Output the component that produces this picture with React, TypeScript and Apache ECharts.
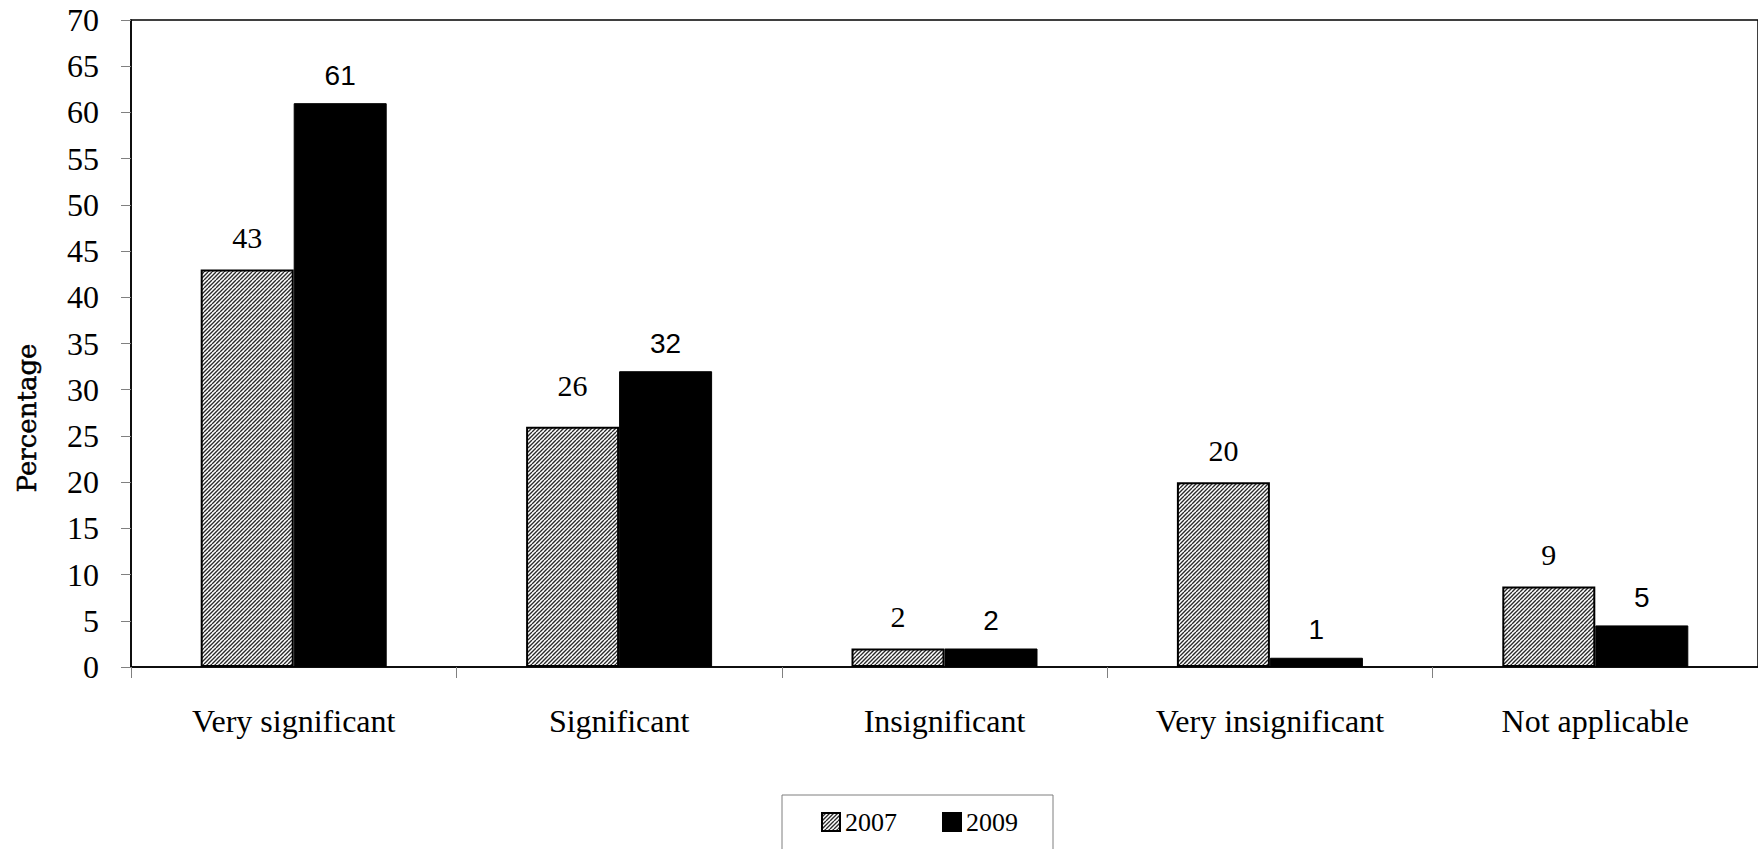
import React, { useEffect, useRef } from "react";
import * as echarts from "echarts";

const categories = ["Very significant", "Significant", "Insignificant", "Very insignificant", "Not applicable"];
const seriesNames = ["2007", "2009"];
const values2007 = [43, 26, 2, 20, 8.7];
const values2009 = [61, 32, 2, 1, 4.5];
const yTicks = { min: 0, max: 70, interval: 5 };

function makeHatch(): HTMLCanvasElement {
  const c = document.createElement("canvas");
  c.width = 8;
  c.height = 8;
  const ctx = c.getContext("2d")!;
  ctx.fillStyle = "#ffffff";
  ctx.fillRect(0, 0, 8, 8);
  ctx.strokeStyle = "#2a2a2a";
  ctx.lineWidth = 1.4;
  ctx.beginPath();
  for (let k = -8; k <= 16; k += 4) {
    ctx.moveTo(k, 8);
    ctx.lineTo(k + 8, 0);
  }
  ctx.stroke();
  return c;
}

export default function App() {
  const ref = useRef<HTMLDivElement>(null);
  useEffect(() => {
    if (!ref.current) return;
    const chart = echarts.init(ref.current, undefined, { renderer: "svg" });
    const hatch = { image: makeHatch(), repeat: "repeat" } as any;
    const serif = "Liberation Serif";
    const option: any = {
      animation: false,
      backgroundColor: "#ffffff",
      grid: {
        left: 131,
        top: 20,
        width: 1630,
        height: 647,
        show: true,
        borderColor: "#000000",
        borderWidth: 1.5,
        backgroundColor: "transparent",
      },
      legend: {
        left: 782,
        top: 795,
        padding: [14, 35, 40, 39],
        borderColor: "#7f7f7f",
        borderWidth: 1,
        itemWidth: 18,
        itemHeight: 18,
        itemGap: 45,
        icon: "rect",
        textStyle: { fontFamily: serif, fontSize: 26, color: "#000000" },
        data: seriesNames,
      },
      xAxis: {
        type: "category",
        data: categories,
        axisLine: { show: true, lineStyle: { color: "#000000", width: 1.5 } },
        axisTick: { show: true, length: 11, alignWithLabel: false, lineStyle: { color: "#808080", width: 1 } },
        axisLabel: { fontFamily: serif, fontSize: 32, color: "#000000", margin: 38, interval: 0 },
        splitLine: { show: false },
      },
      yAxis: {
        type: "value",
        min: yTicks.min,
        max: yTicks.max,
        interval: yTicks.interval,
        axisLine: { show: true, lineStyle: { color: "#000000", width: 1.5 } },
        axisTick: { show: true, length: 10, lineStyle: { color: "#808080", width: 1 } },
        axisLabel: { fontFamily: serif, fontSize: 32, color: "#000000", margin: 32 },
        splitLine: { show: false },
      },
      graphic: [
        {
          type: "text",
          x: 27,
          y: 418,
          rotation: Math.PI / 2,
          style: {
            text: "Percentage",
            font: "26px 'DejaVu Serif'",
            fill: "#000000",
            stroke: "#000000",
            lineWidth: 0.5,
            align: "center",
            verticalAlign: "middle",
          },
        },
      ],
      series: [
        {
          name: seriesNames[0],
          type: "bar",
          barWidth: 93,
          barGap: "0%",
          data: values2007.map((v, i) => (i === 1 ? { value: v, label: { distance: 26 } } : v)),
          itemStyle: { color: hatch, borderColor: "#000000", borderWidth: 2 },
          label: {
            show: true,
            position: "top",
            distance: 17,
            fontFamily: serif,
            fontSize: 30,
            color: "#000000",
            formatter: (p: any) => String(Math.round(p.value)),
          },
        },
        {
          name: seriesNames[1],
          type: "bar",
          barWidth: 93,
          barGap: "0%",
          data: values2009,
          itemStyle: { color: "#000000", borderColor: "#000000", borderWidth: 1 },
          label: {
            show: true,
            position: "top",
            distance: 14,
            fontFamily: "Liberation Sans",
            fontSize: 28,
            color: "#000000",
            formatter: (p: any) => String(Math.round(p.value)),
          },
        },
      ],
    };
    chart.setOption(option);
    return () => chart.dispose();
  }, []);
  return (
    <div
      ref={ref}
      style={{ position: "absolute", left: 0, top: 0, width: 1758, height: 849, background: "#fff" }}
    />
  );
}
